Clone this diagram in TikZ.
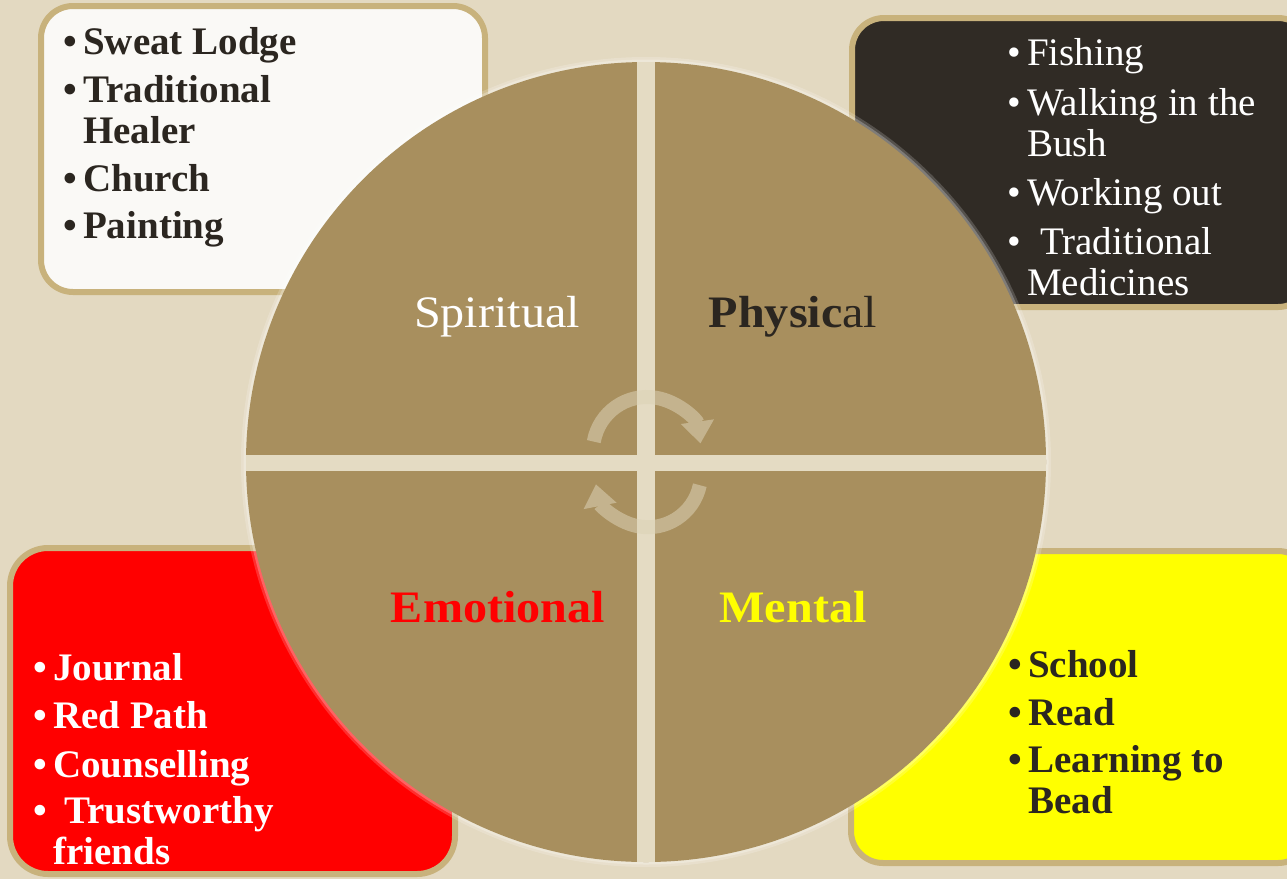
\documentclass[tikz,border=0pt]{standalone}
\usepackage{fontspec}
\setmainfont{Liberation Serif}
\newfontfamily\labelfont[FakeStretch=1.07]{Liberation Serif}
\usetikzlibrary{arrows.meta}
\definecolor{bg}{HTML}{E3D9C1}
\definecolor{rim}{HTML}{C8B27C}
\definecolor{wheel}{HTML}{A88F5E}
\definecolor{ink}{HTML}{2B2620}
\definecolor{darkbox}{HTML}{302B25}
\definecolor{paper}{HTML}{FAF9F6}
\definecolor{arrowc}{HTML}{DCD2B6}
\definecolor{band}{HTML}{E4DBC3}
\definecolor{pred}{HTML}{FF0000}
\definecolor{pyellow}{HTML}{FFFF00}
\newcommand\bl{\makebox[20pt][l]{\textbullet}}
\begin{document}
\begin{tikzpicture}[x=1pt,y=-1pt,
  panel/.style={draw=rim, line width=6pt, rounded corners=32pt},
  list/.style={anchor=base west, inner sep=0pt, font=\fontsize{39}{41}\selectfont},
  lbl/.style={anchor=base, inner sep=0pt, font=\labelfont\fontsize{45}{50}\selectfont},
  cyc/.style={line width=14pt, arrowc, -{Triangle[width=32pt,length=22pt]}}]
\useasboundingbox (0,0) rectangle (1287,879);
\clip (0,0) rectangle (1287,879);
\fill[bg] (0,0) rectangle (1287,879);
% panels
\draw[panel, fill=paper] (41,6) rectangle (485,292);
\draw[panel, fill=darkbox] (852,18) rectangle (1310,307);
\draw[panel, fill=pred, rounded corners=38pt] (10,548) rectangle (455,874);
\draw[panel, fill=pyellow] (851,551) rectangle (1310,863);
% wheel
\fill[white, opacity=0.18] (646,462) circle[radius=405pt];
\fill[white, opacity=0.25] (646,462) circle[radius=402.5pt];
\fill[wheel] (646,462) circle[radius=400pt];
\begin{scope}
  \clip (646,462) circle[radius=400pt];
  \fill[band] (637,0) rectangle (655,879);
  \fill[band] (0,455) rectangle (1287,471);
\end{scope}
% cycle arrows
\begin{scope}[transparency group, opacity=0.55]
  \draw[cyc] (593.8,441.6) arc[start angle=170, end angle=8, radius=54pt];
  \draw[cyc] (699.8,485.2) arc[start angle=-12, end angle=-169, radius=53pt];
\end{scope}
% quadrant labels
\node[lbl, text=white] (spiritual) at (497,327) {Spiritual};
\node[lbl, text=ink] (physical) at (793,327) {\bfseries Physic\mdseries al};
\node[lbl, text=pred] (emotional) at (498,622) {\bfseries Emotional};
\node[lbl, text=pyellow] (mental) at (793,622) {\bfseries Mental};
% lists
\node[list, text=ink, font=\bfseries\fontsize{39}{41}\selectfont] (spiritlist) at (63,54) {%
\begin{tabular}[t]{@{}l@{}l@{}}
\bl & Sweat Lodge\\[7pt]
\bl & Traditional\\
    & Healer\\[7pt]
\bl & Church\\[6pt]
\bl & Painting
\end{tabular}};
\node[list, text=white] (physlist) at (1007,65) {%
\begin{tabular}[t]{@{}l@{}l@{}}
\bl & Fishing\\[9pt]
\bl & Walking in the\\
    & Bush\\[8pt]
\bl & Working out\\[8pt]
\bl & \hspace{13pt}Traditional\\
    & Medicines
\end{tabular}};
\node[list, text=white, font=\bfseries\fontsize{39}{41}\selectfont] (emolist) at (33,680) {%
\begin{tabular}[t]{@{}l@{}l@{}}
\bl & Journal\\[7pt]
\bl & Red Path\\[8pt]
\bl & Counselling\\[5pt]
\bl & \hspace{11pt}Trustworthy\\
    & friends
\end{tabular}};
\node[list, text=ink, font=\bfseries\fontsize{39}{41}\selectfont] (mentlist) at (1008,677) {%
\begin{tabular}[t]{@{}l@{}l@{}}
\bl & School\\[7pt]
\bl & Read\\[6pt]
\bl & Learning to\\
    & Bead
\end{tabular}};
\end{tikzpicture}
\end{document}
